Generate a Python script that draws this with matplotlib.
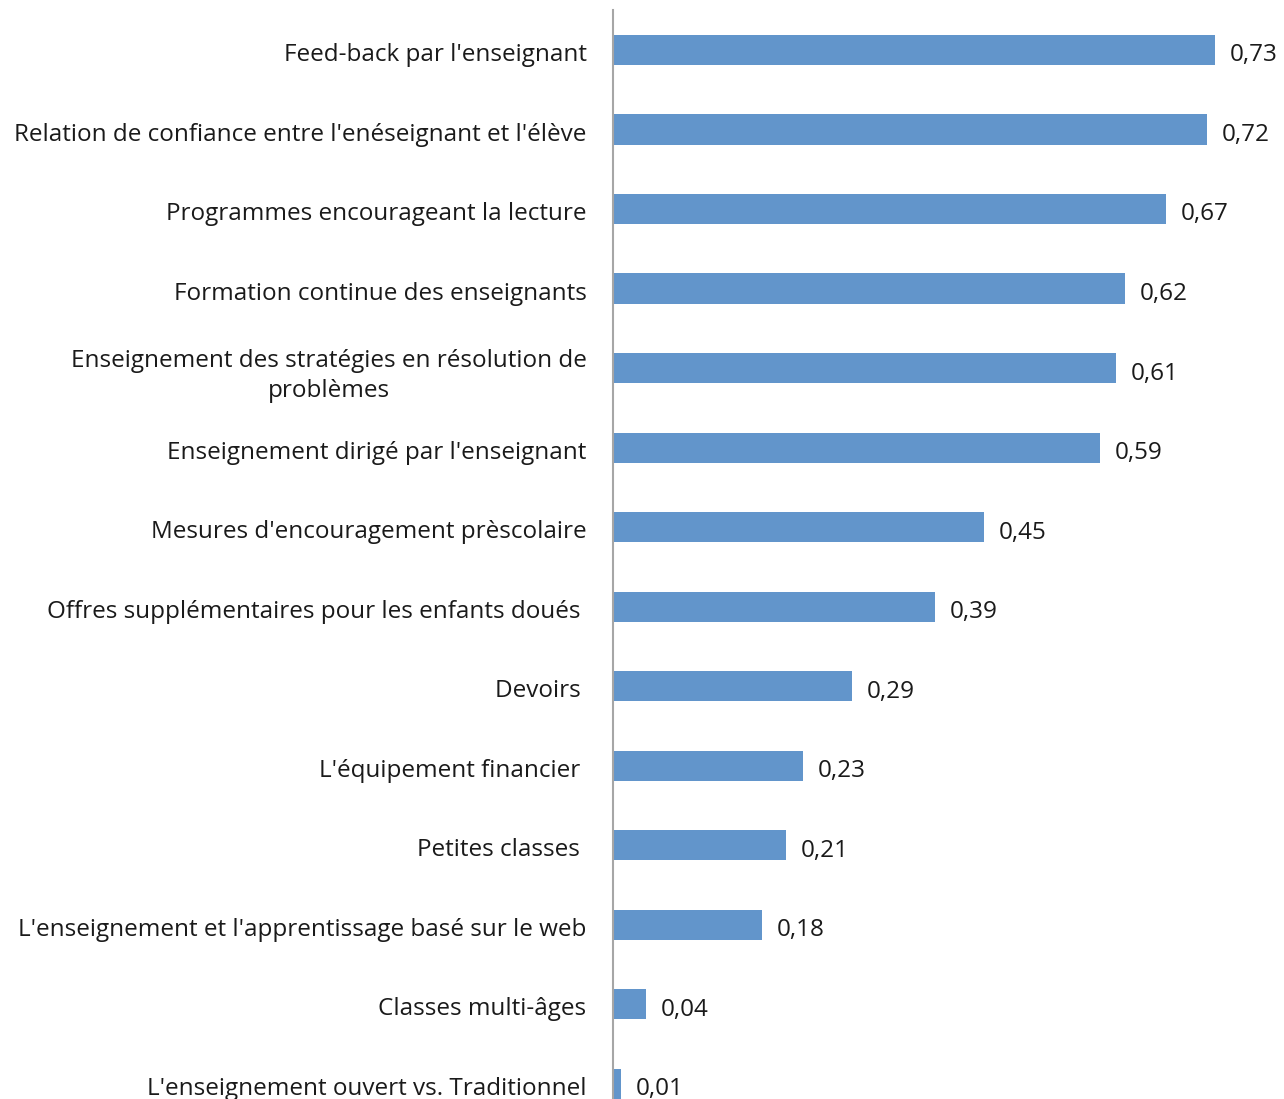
import matplotlib
matplotlib.use("Agg")
from matplotlib import pyplot as plt
from matplotlib import transforms

plt.rcParams['font.family'] = ['Open Sans', 'DejaVu Sans']

labels = [
    "Feed-back par l'enseignant",
    "Relation de confiance entre l'enéseignant et l'élève",
    "Programmes encourageant la lecture",
    "Formation continue des enseignants",
    "Enseignement des stratégies en résolution de\nproblèmes",
    "Enseignement dirigé par l'enseignant",
    "Mesures d'encouragement prèscolaire",
    "Offres supplémentaires pour les enfants doués ",
    "Devoirs ",
    "L'équipement financier ",
    "Petites classes ",
    "L'enseignement et l'apprentissage basé sur le web",
    "Classes multi-âges",
    "L'enseignement ouvert vs. Traditionnel",
]
values = [0.73, 0.72, 0.67, 0.62, 0.61, 0.59, 0.45, 0.39, 0.29, 0.23, 0.21, 0.18, 0.04, 0.01]

fig = plt.figure(figsize=(12.84, 10.99), dpi=100)
ax = fig.add_axes([613/1284, 0, 660/1284, 1 - 10/1099])

pos = list(range(len(values)))
ax.barh(pos, values, height=0.38, color='#6295CB', zorder=2)
for p, v in zip(pos, values):
    ax.text(v + 0.018, p + 0.03, f"{v:.2f}".replace('.', ','), va='center_baseline', ha='left',
            fontsize=17.5, color='#1a1a1a')

ax.set_xlim(0, 0.8)
ax.set_ylim(13.19, -0.503)
ax.set_yticks(pos)
ax.set_yticklabels(labels, fontsize=17.5, color='#1a1a1a', multialignment='center',
                   linespacing=1.35)
ax.tick_params(axis='y', length=0, pad=19)
# nudge tick labels down a couple of pixels
shift = transforms.ScaledTranslation(0, -2/100, fig.dpi_scale_trans)
for lab in ax.get_yticklabels():
    lab.set_transform(lab.get_transform() + shift)
ax.set_xticks([])
for s in ['top', 'right', 'bottom']:
    ax.spines[s].set_visible(False)
ax.spines['left'].set_color('#a6a6a6')
ax.spines['left'].set_linewidth(1.5)

fig.savefig('out.png', dpi=100)
